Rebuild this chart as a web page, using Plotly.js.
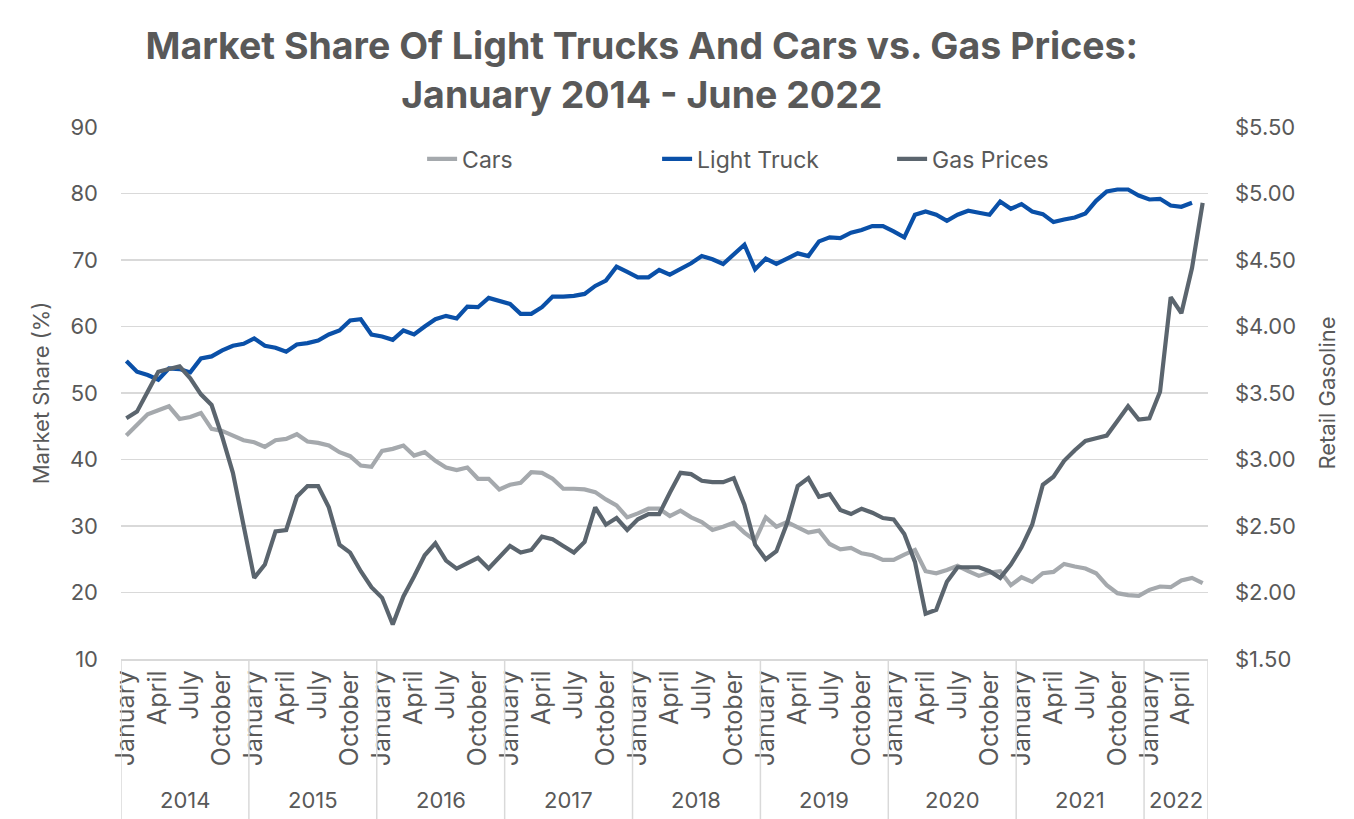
<!DOCTYPE html>
<html>
<head>
<meta charset="utf-8">
<script src="https://cdn.plot.ly/plotly-3.0.1.min.js"></script>
<style>
  html, body { margin: 0; padding: 0; background: #ffffff; }
  #chart { width: 1354px; height: 819px; }
</style>
</head>
<body>
<div id="chart"></div>
<script>
// ---- Data ----
const years = ['2014', '2015', '2016', '2017', '2018', '2019', '2020', '2021', '2022'];
const monthNames = ['January', 'February', 'March', 'April', 'May', 'June', 'July',
  'August', 'September', 'October', 'November', 'December'];
const labeledMonths = ['January', 'April', 'July', 'October'];

// Market share of cars (%), Jan 2014 - Jun 2022
const cars = [
  43.6, 45.2, 46.8, 47.4, 48.0, 46.1, 46.4, 47.0, 44.6, 44.3, 43.6, 42.9,
  42.6, 41.9, 42.9, 43.1, 43.8, 42.7, 42.5, 42.1, 41.1, 40.5, 39.1, 38.9,
  41.3, 41.6, 42.1, 40.6, 41.1, 39.8, 38.8, 38.4, 38.8, 37.1, 37.1, 35.5,
  36.2, 36.5, 38.1, 38.0, 37.1, 35.6, 35.6, 35.5, 35.1, 34.0, 33.1, 31.3,
  31.9, 32.6, 32.6, 31.5, 32.3, 31.3, 30.6, 29.4, 29.9, 30.5, 29.0, 27.8,
  31.3, 29.9, 30.6, 29.8, 29.0, 29.3, 27.3, 26.5, 26.7, 25.9, 25.6, 24.9,
  24.9, 25.7, 26.4, 23.2, 22.9, 23.4, 24.0, 23.2, 22.5, 23.0, 23.2, 21.1,
  22.3, 21.6, 22.9, 23.1, 24.3, 23.9, 23.6, 22.9, 21.1, 19.9, 19.6, 19.5,
  20.4, 20.9, 20.8, 21.8, 22.2, 21.4
];

// Market share of light trucks (%), Jan 2014 - Jun 2022 (June 2022 not shown)
const lightTruck = [
  54.8, 53.2, 52.7, 52.0, 53.7, 53.6, 53.1, 55.2, 55.5, 56.4, 57.1, 57.4,
  58.2, 57.1, 56.8, 56.2, 57.3, 57.5, 57.9, 58.8, 59.4, 60.9, 61.1, 58.8,
  58.5, 58.0, 59.4, 58.8, 60.0, 61.1, 61.6, 61.2, 63.0, 62.9, 64.3, 63.9,
  63.4, 61.9, 61.9, 62.9, 64.5, 64.5, 64.6, 64.9, 66.1, 66.9, 69.0, 68.2,
  67.4, 67.4, 68.5, 67.8, 68.7, 69.5, 70.6, 70.1, 69.4, 70.9, 72.3, 68.6,
  70.2, 69.4, 70.2, 71.0, 70.6, 72.8, 73.4, 73.3, 74.1, 74.5, 75.1, 75.1,
  74.3, 73.4, 76.8, 77.3, 76.8, 75.9, 76.8, 77.4, 77.1, 76.8, 78.8, 77.7,
  78.4, 77.3, 76.9, 75.7, 76.1, 76.4, 77.0, 78.9, 80.3, 80.6, 80.6, 79.7,
  79.1, 79.2, 78.2, 78.0, 78.6, null
];

// Retail gasoline price ($/gal), Jan 2014 - Jun 2022
const gasPrices = [
  3.31, 3.36, 3.51, 3.66, 3.68, 3.70, 3.61, 3.49, 3.41, 3.17, 2.90, 2.52,
  2.11, 2.21, 2.46, 2.47, 2.72, 2.80, 2.80, 2.64, 2.36, 2.30, 2.16, 2.04,
  1.96, 1.76, 1.97, 2.12, 2.28, 2.37, 2.24, 2.18, 2.22, 2.26, 2.18, 2.26,
  2.35, 2.30, 2.32, 2.42, 2.40, 2.35, 2.30, 2.38, 2.64, 2.51, 2.56, 2.47,
  2.55, 2.59, 2.59, 2.75, 2.90, 2.89, 2.84, 2.83, 2.83, 2.86, 2.66, 2.36,
  2.25, 2.31, 2.52, 2.80, 2.86, 2.72, 2.74, 2.62, 2.59, 2.63, 2.60, 2.56,
  2.55, 2.44, 2.23, 1.84, 1.87, 2.08, 2.19, 2.19, 2.19, 2.16, 2.11, 2.21,
  2.34, 2.51, 2.81, 2.87, 2.99, 3.07, 3.14, 3.16, 3.18, 3.29, 3.40, 3.30,
  3.31, 3.51, 4.22, 4.10, 4.44, 4.93
];

// ---- Period axis built from the data order ----
const idx = gasPrices.map((_, i) => i);
const periodMonth = idx.map(i => monthNames[i % 12]);
const periodYear = idx.map(i => years[Math.floor(i / 12)]);
const hoverText = idx.map(i => periodMonth[i] + ' ' + periodYear[i]);
const tickvals = idx.filter(i => labeledMonths.includes(periodMonth[i]));
const ticktext = tickvals.map(i => periodMonth[i]);

const textColor = '#595959';
const gridColor = '#d9d9d9';
const fontFamily = 'Inter, "Open Sans", sans-serif';

// year groups
const shapes = [];
const annotations = [];
years.forEach((yr, k) => {
  const members = idx.filter(i => periodYear[i] === yr);
  if (!members.length) return;
  const first = members[0], last = members[members.length - 1];
  annotations.push({
    x: (first + last) / 2, xref: 'x', y: 0, yref: 'paper',
    yshift: -141, yanchor: 'middle', showarrow: false,
    text: yr, font: { family: fontFamily, size: 22, color: textColor }
  });
  shapes.push({
    type: 'line', xref: 'x', yref: 'paper', x0: first - 0.5, x1: first - 0.5,
    y0: 0, y1: -0.31, line: { color: gridColor, width: 1.5 }
  });
  if (k === years.length - 1 || !idx.some(i => periodYear[i] === years[k + 1])) {
    shapes.push({
      type: 'line', xref: 'x', yref: 'paper', x0: last + 0.5, x1: last + 0.5,
      y0: 0, y1: -0.31, line: { color: gridColor, width: 1.5 }
    });
  }
});

const traces = [
  {
    name: 'Cars', x: idx, y: cars, text: hoverText, type: 'scatter', mode: 'lines',
    line: { color: '#a5a9ad', width: 4.2 }, yaxis: 'y'
  },
  {
    name: 'Light Truck', x: idx, y: lightTruck, text: hoverText, type: 'scatter', mode: 'lines',
    line: { color: '#0a50a8', width: 4.2 }, yaxis: 'y'
  },
  {
    name: 'Gas Prices', x: idx, y: gasPrices, text: hoverText, type: 'scatter', mode: 'lines',
    line: { color: '#5b656e', width: 4.2 }, yaxis: 'y2'
  }
];

const layout = {
  width: 1354, height: 819,
  paper_bgcolor: '#ffffff', plot_bgcolor: '#ffffff',
  margin: { l: 121, r: 146, t: 127, b: 160 },
  font: { family: fontFamily, color: textColor, size: 22 },
  title: {
    text: '<b>Market Share Of Light Trucks And Cars vs. Gas Prices:<br>January 2014 - June 2022</b>',
    font: { family: fontFamily, size: 37.5, color: textColor },
    x: 0.474, xref: 'container', xanchor: 'center',
    y: 0.928, yref: 'container', yanchor: 'top'
  },
  showlegend: true,
  legend: {
    orientation: 'h', x: 0.277, xanchor: 'left', y: 0.94, yanchor: 'middle',
    entrywidth: 190, entrywidthmode: 'pixels',
    font: { family: fontFamily, size: 23, color: textColor },
    bgcolor: 'rgba(0,0,0,0)'
  },
  xaxis: {
    range: [-0.5, idx.length - 0.5],
    tickmode: 'array', tickvals: tickvals, ticktext: ticktext,
    tickangle: -90, ticks: '', showgrid: false, zeroline: false,
    showline: true, linecolor: gridColor, linewidth: 1.5,
    tickfont: { family: fontFamily, size: 25, color: textColor },
    fixedrange: true
  },
  yaxis: {
    range: [10, 90], dtick: 10, tick0: 10,
    showgrid: true, gridcolor: gridColor, gridwidth: 1.5, zeroline: false,
    ticks: '', ticklabelstandoff: 22,
    tickfont: { family: fontFamily, size: 22, color: textColor },
    title: { text: 'Market Share (%)', standoff: 14,
             font: { family: fontFamily, size: 22, color: textColor } }
  },
  yaxis2: {
    range: [1.5, 5.5], dtick: 0.5, tick0: 1.5, tickformat: '$.2f',
    overlaying: 'y', side: 'right', showgrid: false, zeroline: false,
    ticks: '', ticklabelstandoff: 26,
    tickfont: { family: fontFamily, size: 22, color: textColor },
    title: { text: 'Retail Gasoline', standoff: 24,
             font: { family: fontFamily, size: 22, color: textColor } }
  },
  shapes: shapes,
  annotations: annotations
};

Plotly.newPlot('chart', traces, layout, { displayModeBar: false, staticPlot: true });
</script>
</body>
</html>
